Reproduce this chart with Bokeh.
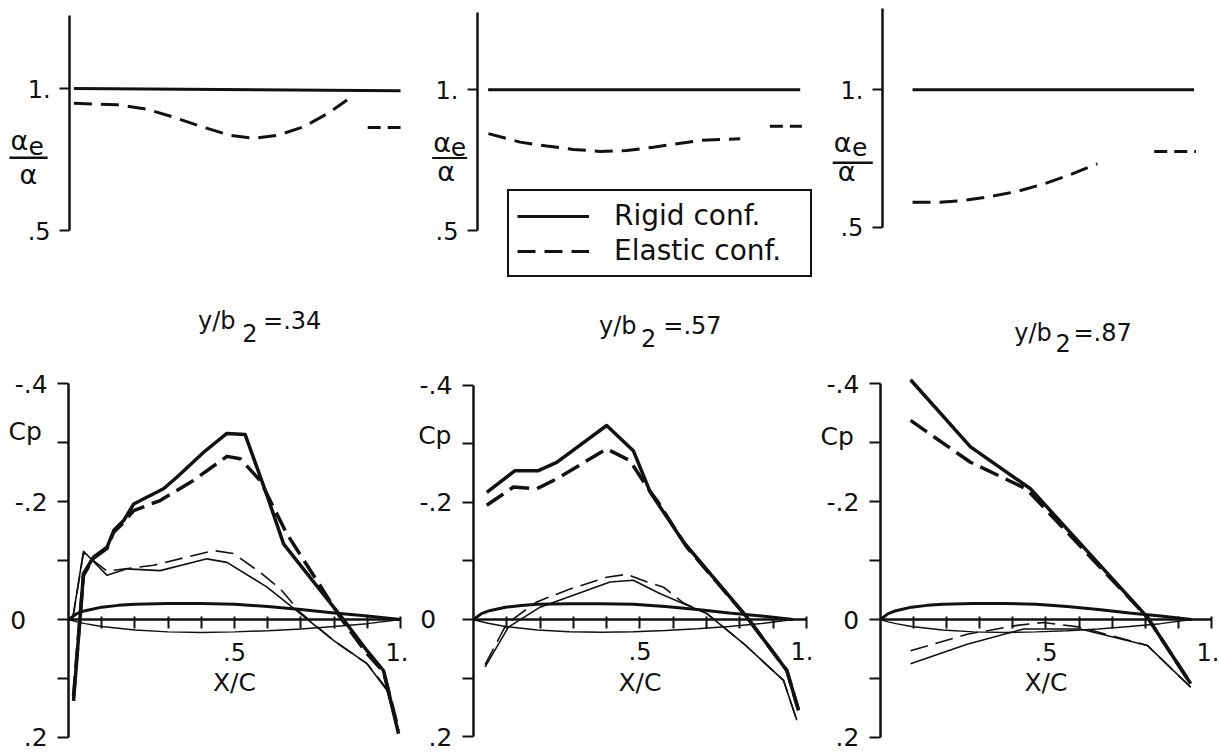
from bokeh.plotting import figure
from bokeh.models import Range1d, FixedTicker, Label, Legend, LegendItem, BoxAnnotation
from bokeh.layouts import row, column
from bokeh.embed import file_html
from bokeh.resources import INLINE

FONT = "DejaVu Sans"
INK = "#111111"

# ------------------------------------------------------------------
# Top row: alpha_e / alpha   (rigid = solid, elastic = dashed)
# ------------------------------------------------------------------
top1_rigid_x = [0.013, 0.997]
top1_rigid_ratio = [1.0, 0.992]
top1_elastic_x = [0.013, 0.144, 0.234, 0.314, 0.395, 0.485, 0.555, 0.626, 0.706, 0.776, 0.836]
top1_elastic_ratio = [0.948, 0.943, 0.927, 0.899, 0.867, 0.835, 0.825, 0.835, 0.866, 0.911, 0.960]
top1_tail_x = [0.898, 0.997]
top1_tail_ratio = [0.863, 0.863]

top2_rigid_x = [0.032, 0.969]
top2_rigid_ratio = [1.0, 1.0]
top2_elastic_x = [0.033, 0.128, 0.208, 0.288, 0.368, 0.448, 0.528, 0.669, 0.789]
top2_elastic_ratio = [0.844, 0.814, 0.800, 0.788, 0.781, 0.784, 0.796, 0.820, 0.826]
top2_tail_x = [0.878, 0.974]
top2_tail_ratio = [0.870, 0.870]

top3_rigid_x = [0.091, 0.941]
top3_rigid_ratio = [1.0, 1.0]
top3_elastic_x = [0.091, 0.166, 0.246, 0.327, 0.407, 0.488, 0.568, 0.649]
top3_elastic_ratio = [0.590, 0.590, 0.597, 0.611, 0.630, 0.657, 0.691, 0.730]
top3_tail_x = [0.821, 0.947]
top3_tail_ratio = [0.775, 0.775]

# ------------------------------------------------------------------
# Bottom row: Cp vs X/C  (thick = upper surface, thin = lower surface)
# ------------------------------------------------------------------
sections = [".34", ".57", ".87"]

b1_up_rigid_x = [0.015, 0.045, 0.075, 0.116, 0.136, 0.166, 0.196, 0.286, 0.327, 0.407, 0.477, 0.532, 0.597, 0.648, 0.828, 0.899, 0.949, 0.994]
b1_up_rigid_cp = [0.138, -0.078, -0.106, -0.123, -0.151, -0.168, -0.196, -0.222, -0.242, -0.284, -0.316, -0.314, -0.212, -0.128, 0.0, 0.053, 0.087, 0.194]
b1_up_elastic_x = [0.015, 0.045, 0.075, 0.116, 0.136, 0.166, 0.196, 0.276, 0.376, 0.477, 0.517, 0.577, 0.658, 0.748, 0.818, 0.899, 0.949, 0.994]
b1_up_elastic_cp = [0.130, -0.075, -0.104, -0.121, -0.148, -0.165, -0.185, -0.202, -0.236, -0.277, -0.273, -0.236, -0.145, -0.066, -0.004, 0.058, 0.089, 0.188]
b1_lo_rigid_x = [0.012, 0.045, 0.116, 0.176, 0.276, 0.417, 0.477, 0.598, 0.698, 0.799, 0.899, 0.959, 0.994]
b1_lo_rigid_cp = [0.0, -0.116, -0.075, -0.086, -0.083, -0.103, -0.097, -0.055, -0.010, 0.036, 0.075, 0.120, 0.190]
b1_lo_elastic_x = [0.012, 0.045, 0.116, 0.196, 0.256, 0.356, 0.437, 0.497, 0.577, 0.638, 0.698, 0.799, 0.899, 0.959, 0.994]
b1_lo_elastic_cp = [0.0, -0.113, -0.082, -0.088, -0.092, -0.106, -0.117, -0.112, -0.080, -0.052, -0.012, 0.036, 0.075, 0.118, 0.188]

b2_up_rigid_x = [0.040, 0.125, 0.195, 0.250, 0.400, 0.480, 0.531, 0.551, 0.631, 0.821, 0.941, 0.976]
b2_up_rigid_cp = [-0.217, -0.254, -0.254, -0.268, -0.331, -0.288, -0.217, -0.200, -0.132, -0.004, 0.087, 0.155]
b2_up_elastic_x = [0.040, 0.120, 0.190, 0.250, 0.400, 0.470, 0.521, 0.551, 0.641, 0.821, 0.941, 0.976]
b2_up_elastic_cp = [-0.195, -0.226, -0.223, -0.240, -0.291, -0.271, -0.226, -0.203, -0.123, -0.004, 0.087, 0.155]
b2_lo_rigid_x = [0.035, 0.105, 0.200, 0.410, 0.480, 0.561, 0.701, 0.811, 0.931, 0.971]
b2_lo_rigid_cp = [0.081, 0.013, -0.021, -0.064, -0.067, -0.044, -0.010, 0.041, 0.104, 0.172]
b2_lo_elastic_x = [0.035, 0.100, 0.190, 0.290, 0.400, 0.460, 0.521, 0.571, 0.631, 0.701, 0.811, 0.931, 0.971]
b2_lo_elastic_cp = [0.077, 0.007, -0.030, -0.052, -0.072, -0.077, -0.064, -0.055, -0.028, -0.010, 0.041, 0.104, 0.172]

b3_up_rigid_x = [0.091, 0.272, 0.453, 0.806, 0.937]
b3_up_rigid_cp = [-0.407, -0.293, -0.222, -0.004, 0.109]
b3_up_elastic_x = [0.091, 0.272, 0.440, 0.806, 0.937]
b3_up_elastic_cp = [-0.338, -0.267, -0.222, -0.004, 0.109]
b3_lo_rigid_x = [0.091, 0.262, 0.433, 0.604, 0.806, 0.937]
b3_lo_rigid_cp = [0.075, 0.042, 0.016, 0.016, 0.044, 0.115]
b3_lo_elastic_x = [0.091, 0.262, 0.413, 0.493, 0.604, 0.806, 0.937]
b3_lo_elastic_cp = [0.053, 0.025, 0.010, 0.005, 0.013, 0.044, 0.115]

# airfoil section drawn on the X/C axis (shape in chord fractions)
airfoil_x = [0.0, 0.025, 0.05, 0.1, 0.15, 0.2, 0.3, 0.4, 0.5, 0.6, 0.7, 0.8, 0.9, 1.0]
airfoil_upper = [0.0, -0.010, -0.015, -0.021, -0.024, -0.026, -0.027, -0.027, -0.026, -0.022, -0.017, -0.011, -0.006, 0.0]
airfoil_lower = [0.0, 0.004, 0.007, 0.012, 0.015, 0.018, 0.021, 0.022, 0.021, 0.019, 0.016, 0.012, 0.007, 0.0]
airfoil_chord = [1.0, 0.96, 0.94]

xc_ticks = [0.1, 0.2, 0.3, 0.4, 0.5, 0.6, 0.7, 0.8, 0.9, 1.0]
xc_labels = ["", "", "", "", ".5", "", "", "", "", "1."]
cp_ticks = [-0.4, -0.3, -0.2, -0.1, 0.0, 0.1, 0.2]
cp_labels = ["-.4", "", "-.2", "", "", "", ".2"]
cp_zero_label = "0"
ratio_ticks = [0.5, 1.0]
ratio_labels = [".5", "1."]


def base(width, height, xr, yr):
    p = figure(width=width, height=height, x_range=xr, y_range=yr,
               output_backend="svg", toolbar_location=None,
               min_border_left=0, min_border_right=0,
               min_border_top=0, min_border_bottom=0)
    p.grid.visible = False
    p.outline_line_color = None
    p.background_fill_color = "white"
    p.border_fill_color = "white"
    return p


def style_axis(ax, size):
    ax.axis_line_color = INK
    ax.axis_line_width = 2.5
    ax.major_tick_line_color = INK
    ax.major_tick_line_width = 2
    ax.minor_tick_out = 0
    ax.minor_tick_in = 0
    ax.major_label_text_font = FONT
    ax.major_label_text_font_size = size
    ax.major_label_text_color = INK


def txt(p, x, y, s, size):
    p.add_layout(Label(x=x, y=y, text=s, text_font=FONT, text_font_size=size,
                       text_color=INK, text_align="left", text_baseline="alphabetic"))


# ---------------- top figures ----------------
top_specs = [
    dict(w=408, x0=-0.208, xend=1.021, y0=0.289, y1=1.310, atop=1.257,
         rx=top1_rigid_x, ry=top1_rigid_ratio, ex=top1_elastic_x, ey=top1_elastic_ratio,
         tx=top1_tail_x, ty=top1_tail_ratio,
         lab=(-0.178, 0.817, -0.124, 0.797, -0.181, -0.066, 0.752, 0.761, -0.151, 0.697)),
    dict(w=405, x0=-0.207, xend=1.009, y0=0.287, y1=1.317, atop=1.275,
         rx=top2_rigid_x, ry=top2_rigid_ratio, ex=top2_elastic_x, ey=top2_elastic_ratio,
         tx=top2_tail_x, ty=top2_tail_ratio,
         lab=(-0.133, 0.812, -0.080, 0.796, -0.136, -0.031, 0.754, 0.761, -0.121, 0.709)),
    dict(w=406, x0=-0.208, xend=1.018, y0=0.269, y1=1.325, atop=1.296,
         rx=top3_rigid_x, ry=top3_rigid_ratio, ex=top3_elastic_x, ey=top3_elastic_ratio,
         tx=top3_tail_x, ty=top3_tail_ratio,
         lab=(-0.147, 0.808, -0.092, 0.791, -0.150, -0.029, 0.730, 0.739, -0.135, 0.702)),
]

tops = []
for i, s in enumerate(top_specs):
    p = base(s["w"], 290, Range1d(s["x0"], s["xend"]), Range1d(s["y0"], s["y1"]))
    p.xaxis.visible = False
    ya = p.yaxis[0]
    style_axis(ya, "24px")
    ya.fixed_location = 0
    ya.ticker = FixedTicker(ticks=ratio_ticks)
    ya.major_label_overrides = dict(zip(ratio_ticks, ratio_labels))
    ya.bounds = (0.5, s["atop"])
    ya.major_tick_out = 10
    ya.major_tick_in = 0
    ya.major_label_standoff = 9

    r1 = p.line(s["rx"], s["ry"], line_color=INK, line_width=3)
    r2 = p.line(s["ex"], s["ey"], line_color=INK, line_width=3, line_dash="18 9")
    p.line(s["tx"], s["ty"], line_color=INK, line_width=3, line_dash="13 7")

    ax_, ay_, ex_, ey_, bl, br, bb, bt, dx_, dy_ = s["lab"]
    txt(p, ax_, ay_, "α", "27px")
    txt(p, ex_, ey_, "e", "25px")
    p.add_layout(BoxAnnotation(left=bl, right=br, bottom=bb, top=bt,
                               fill_color=INK, fill_alpha=1, line_color=None))
    txt(p, dx_, dy_, "α", "27px")

    if i == 1:
        legend = Legend(items=[LegendItem(label="Rigid conf.", renderers=[r1]),
                               LegendItem(label="Elastic conf.", renderers=[r2])],
                        location=(99, 13), padding=8, spacing=2, margin=0,
                        glyph_width=72, glyph_height=30, label_height=30,
                        label_width=188, label_standoff=25,
                        label_text_font=FONT, label_text_font_size="28px",
                        label_text_color=INK, label_text_baseline="middle",
                        border_line_color=INK, border_line_width=2.5, border_line_alpha=1,
                        background_fill_color="white", background_fill_alpha=1)
        p.add_layout(legend)
    tops.append(p)

# ---------------- bottom figures ----------------
bot_specs = [
    dict(w=408, x0=-0.205, xend=1.024, ytop=-0.5586, ybot=0.2275,
         ur=(b1_up_rigid_x, b1_up_rigid_cp), ue=(b1_up_elastic_x, b1_up_elastic_cp),
         lr=(b1_lo_rigid_x, b1_lo_rigid_cp), le=(b1_lo_elastic_x, b1_lo_elastic_cp),
         cp=(-0.181, -0.319), zero=(-0.176, 0.0),
         title=(0.39, -0.506, 0.523, -0.486, 0.586)),
    dict(w=405, x0=-0.195, xend=1.021, ytop=-0.5614, ybot=0.2287,
         ur=(b2_up_rigid_x, b2_up_rigid_cp), ue=(b2_up_elastic_x, b2_up_elastic_cp),
         lr=(b2_lo_rigid_x, b2_lo_rigid_cp), le=(b2_lo_elastic_x, b2_lo_elastic_cp),
         cp=(-0.166, -0.314), zero=(-0.160, 0.0),
         title=(0.377, -0.500, 0.503, -0.480, 0.570)),
    dict(w=406, x0=-0.202, xend=1.024, ytop=-0.5586, ybot=0.2275,
         ur=(b3_up_rigid_x, b3_up_rigid_cp), ue=(b3_up_elastic_x, b3_up_elastic_cp),
         lr=(b3_lo_rigid_x, b3_lo_rigid_cp), le=(b3_lo_elastic_x, b3_lo_elastic_cp),
         cp=(-0.181, -0.310), zero=(-0.112, 0.0),
         title=(0.404, -0.486, 0.529, -0.469, 0.583)),
]

bots = []
for i, s in enumerate(bot_specs):
    p = base(s["w"], 463, Range1d(s["x0"], s["xend"]), Range1d(s["ybot"], s["ytop"]))
    ya = p.yaxis[0]
    style_axis(ya, "25px")
    ya.fixed_location = 0
    ya.ticker = FixedTicker(ticks=cp_ticks)
    ya.major_label_overrides = dict(zip(cp_ticks, cp_labels))
    ya.bounds = (-0.4, 0.2)
    ya.major_tick_out = 11
    ya.major_tick_in = 0
    ya.major_label_standoff = 10

    xa = p.xaxis[0]
    style_axis(xa, "24px")
    xa.fixed_location = 0
    xa.bounds = (0, 1)
    xa.ticker = FixedTicker(ticks=xc_ticks)
    xa.major_label_overrides = dict(zip(xc_ticks, xc_labels))
    xa.major_tick_out = 9
    xa.major_tick_in = 3
    xa.major_label_standoff = 14
    xa.axis_label = "X/C"
    xa.axis_label_text_font = FONT
    xa.axis_label_text_font_size = "25px"
    xa.axis_label_text_font_style = "normal"
    xa.axis_label_text_color = INK
    xa.axis_label_standoff = 4

    c = airfoil_chord[i]
    fx = [v * c for v in airfoil_x]
    p.line(fx, airfoil_upper, line_color=INK, line_width=3)
    p.line(fx, airfoil_lower, line_color=INK, line_width=1.5)

    p.line(*s["lr"], line_color=INK, line_width=1.6, line_join="round")
    p.line(*s["le"], line_color=INK, line_width=1.6, line_dash="18 8", line_join="round")
    p.line(*s["ur"], line_color=INK, line_width=3.5, line_join="round")
    p.line(*s["ue"], line_color=INK, line_width=3.5, line_dash="20 8", line_join="round")

    cx, cy = s["cp"]
    txt(p, cx, cy, "Cp", "25px")
    zx, zy = s["zero"]
    txt(p, zx, zy, cp_zero_label, "25px")
    t1x, t1y, t2x, t2y, t3x = s["title"]
    txt(p, t1x, t1y, "y/b", "24px")
    txt(p, t2x, t2y, "2", "24px")
    txt(p, t3x, t1y, "=" + sections[i], "24px")
    bots.append(p)

layout = column(row(*tops, spacing=0), row(*bots, spacing=0), spacing=0)
open("out.html", "w").write(file_html(layout, INLINE))
